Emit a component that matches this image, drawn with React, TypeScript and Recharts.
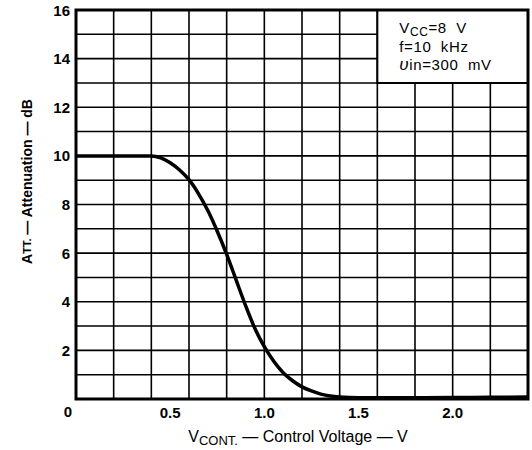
import React from "react";
import {
  LineChart,
  Line,
  XAxis,
  YAxis,
  CartesianGrid,
  ReferenceArea,
} from "recharts";

const voltage = [0, 0.1, 0.2, 0.3, 0.4, 0.45, 0.5, 0.55, 0.6, 0.65, 0.7, 0.75, 0.8, 0.85, 0.9, 0.95, 1.0, 1.05, 1.1, 1.15, 1.2, 1.25, 1.3, 1.35, 1.4, 1.5, 1.6, 1.8, 2.0, 2.2, 2.4];
const attenuation = [10, 10, 10, 10, 10, 9.92, 9.72, 9.42, 9.02, 8.45, 7.75, 6.9, 5.95, 4.9, 3.85, 2.9, 2.15, 1.55, 1.08, 0.75, 0.5, 0.33, 0.2, 0.12, 0.08, 0.05, 0.05, 0.05, 0.06, 0.07, 0.08];

const gridXTicks = [0, 0.2, 0.4, 0.6, 0.8, 1.0, 1.2, 1.4, 1.6, 1.8, 2.0, 2.2, 2.4];
const labelXTicks = [0.5, 1.0, 1.5, 2.0];
const yTicks = [0, 1, 2, 3, 4, 5, 6, 7, 8, 9, 10, 11, 12, 13, 14, 15, 16];

const data = voltage.map((v, i) => ({ v, att: attenuation[i] }));

const FONT = "'Liberation Sans', Arial, Helvetica, sans-serif";
const NB = "\u00A0";

const YTick = (props: any) => {
  const { x, y, payload } = props;
  const val = payload.value;
  if (val % 2 !== 0) return null;
  return (
    <text
      x={val === 0 ? x + 2 : x}
      y={val === 0 ? y + 12 : y}
      textAnchor="end"
      dominantBaseline="central"
      fontFamily={FONT}
      fontWeight="bold"
      fontSize={15}
      fill="#000"
    >
      {val}
    </text>
  );
};

const XTick = (props: any) => {
  const { x, y, payload } = props;
  return (
    <text
      x={x}
      y={y}
      dy="0.75em"
      textAnchor="middle"
      fontFamily={FONT}
      fontWeight="bold"
      fontSize={15}
      fill="#000"
    >
      {payload.value.toFixed(1)}
    </text>
  );
};

export default function App() {
  return (
    <div style={{ position: "absolute", left: 0, top: 0, background: "#fff" }}>
      <LineChart
        width={532}
        height={450}
        data={data}
        margin={{ top: 10, right: 4, bottom: 0, left: 0 }}
      >
        <CartesianGrid
          xAxisId="g"
          stroke="#000"
          strokeWidth={1.6}
          fill="none"
        />
        <XAxis
          xAxisId="g"
          dataKey="v"
          type="number"
          orientation="top"
          height={0}
          domain={[0, 2.4]}
          ticks={gridXTicks}
          hide
        />
        <XAxis
          xAxisId="l"
          dataKey="v"
          type="number"
          domain={[0, 2.4]}
          ticks={labelXTicks}
          height={51}
          axisLine={false}
          tickLine={false}
          tickSize={6}
          tickMargin={2}
          tick={<XTick />}
          label={{
            content: (p: any) => {
              const vb = p.viewBox;
              return (
                <text
                  x={vb.x + vb.width / 2 - 4}
                  y={vb.y + 43}
                  textAnchor="middle"
                  fontFamily={FONT}
                  fontSize={16}
                  fill="#000"
                >
                  V
                  <tspan fontSize={13} dy={3}>CONT.</tspan>
                  <tspan dy={-3}>{" — Control" + NB + "Voltage — V"}</tspan>
                </text>
              );
            },
          }}
        />
        <YAxis
          type="number"
          domain={[0, 16]}
          ticks={yTicks}
          width={76}
          axisLine={false}
          tickLine={false}
          tickSize={4}
          tickMargin={2}
          tick={<YTick />}
          interval={0}
          label={{
            content: (p: any) => {
              const vb = p.viewBox;
              const cx = vb.x + 27;
              const cy = vb.y + vb.height / 2 - 23;
              return (
                <text
                  x={cx}
                  y={cy}
                  transform={`rotate(-90, ${cx}, ${cy})`}
                  textAnchor="middle"
                  dominantBaseline="central"
                  fontFamily={FONT}
                  fontWeight="bold"
                  fontSize={14}
                  fill="#000"
                >
                  A<tspan fontSize={11}>TT.</tspan> — Attenuation — dB
                </text>
              );
            },
          }}
        />
        <ReferenceArea
          xAxisId="g"
          x1={1.6}
          x2={2.4}
          y1={13}
          y2={16}
          fill="#fff"
          fillOpacity={1}
          stroke="#000"
          strokeWidth={2}
          label={{
            content: (p: any) => {
              const vb = p.viewBox;
              const tx = vb.x + 22;
              const ty = vb.y + 23;
              return (
                <text
                  x={tx}
                  y={ty}
                  fontFamily={FONT}
                  fontSize={15}
                  letterSpacing={0.6}
                  fill="#000"
                >
                  <tspan x={tx} dy={0}>V</tspan>
                  <tspan fontSize={12} dy={3}>CC</tspan>
                  <tspan dy={-3}>{"=8" + NB + NB + "V"}</tspan>
                  <tspan x={tx} dy={19}>{"f=10" + NB + NB + "kHz"}</tspan>
                  <tspan x={tx} dy={18} fontStyle="italic" fontSize={17}>υ</tspan>
                  <tspan>{"in=300" + NB + NB + "mV"}</tspan>
                </text>
              );
            },
          }}
        />
        <ReferenceArea
          xAxisId="g"
          x1={0}
          x2={2.4}
          y1={0}
          y2={16}
          fill="none"
          stroke="#000"
          strokeWidth={3}
        />
        <Line
          xAxisId="l"
          type="monotone"
          dataKey="att"
          stroke="#000"
          strokeWidth={3.5}
          dot={false}
          isAnimationActive={false}
        />
      </LineChart>
    </div>
  );
}
